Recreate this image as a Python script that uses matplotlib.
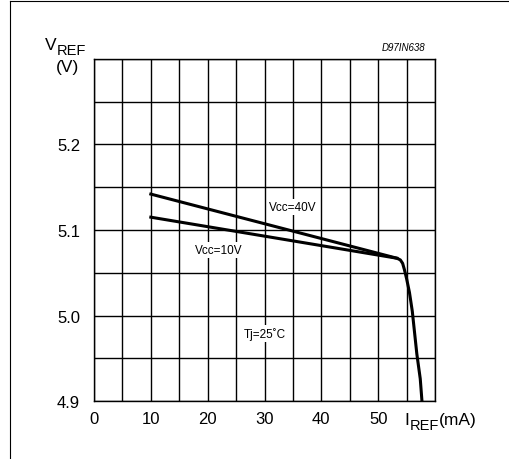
import matplotlib
matplotlib.use("Agg")
import matplotlib.pyplot as plt
from matplotlib.lines import Line2D

plt.rcParams['font.family'] = ['Liberation Sans', 'DejaVu Sans']

# reference voltage vs. reference current, Tj = 25 C
i_vcc40 = [10, 53.3, 53.9, 54.3, 54.6, 55.0, 55.5, 56.0, 56.8, 57.4, 57.7]
v_vcc40 = [5.142, 5.067, 5.065, 5.061, 5.054, 5.043, 5.027, 5.005, 4.955, 4.926, 4.9]
i_vcc10 = [10, 53.3]
v_vcc10 = [5.115, 5.067]

x_ticks = [0, 5, 10, 15, 20, 25, 30, 35, 40, 45, 50, 55, 60]
x_labels = ['0', '', '10', '', '20', '', '30', '', '40', '', '50', '', '']
y_ticks = [4.9, 4.95, 5.0, 5.05, 5.1, 5.15, 5.2, 5.25, 5.3]
y_labels = ['4.9', '', '5.0', '', '5.1', '', '5.2', '', '']

fig = plt.figure(figsize=(5.1, 4.6), dpi=100)
ax = fig.add_axes([0.1843, 0.126, 0.6687, 0.7436])

ax.set_xlim(0, 60)
ax.set_ylim(4.9, 5.3)
ax.set_xticks(x_ticks, x_labels)
ax.set_yticks(y_ticks, y_labels)
ax.tick_params(length=0, labelsize=12)
ax.tick_params(axis='x', pad=7.5)
ax.tick_params(axis='y', pad=10)
ax.grid(True, color='black', lw=1.0)
for s in ax.spines.values():
    s.set_linewidth(1.0)

ax.plot(i_vcc40, v_vcc40, color='black', lw=2.2, solid_joinstyle='round', zorder=4)
ax.plot(i_vcc10, v_vcc10, color='black', lw=2.2, zorder=4)

# curve labels sit on white so the grid breaks around them
box = dict(facecolor='white', edgecolor='none', pad=1.5)
ax.text(35.0, 5.127, 'Vcc=40V', fontsize=8.5, ha='center', va='center', bbox=box, zorder=3)
ax.text(22.0, 5.077, 'Vcc=10V', fontsize=8.5, ha='center', va='center', bbox=box, zorder=3)
ax.text(30.1, 4.979, 'Tj=25˚C', fontsize=8.5, ha='center', va='center', bbox=box, zorder=3)


def sub_label(x, y, main, sub, tail=''):
    # main letter, lowered subscript, then the rest of the label
    t = fig.text(x, y, main, fontsize=12.5, ha='left', va='baseline')
    s = ax.annotate(sub, xy=(1, 0), xycoords=t, xytext=(0.3, -3.5), textcoords='offset points',
                    fontsize=10.5, ha='left', va='bottom', annotation_clip=False)
    if tail:
        ax.annotate(tail, xy=(1, 0), xycoords=s, xytext=(0.3, 3.5), textcoords='offset points',
                    fontsize=12.5, ha='left', va='bottom', annotation_clip=False)


sub_label(45 / 510, 1 - 50 / 460, 'V', 'REF')
fig.text(68 / 510, 1 - 72 / 460, '(V)', fontsize=12.5, ha='center', va='baseline')
sub_label(404 / 510, 1 - 425 / 460, 'I', 'REF', '(mA)')
fig.text(425 / 510, 1 - 48 / 460, 'D97IN638', fontsize=7, style='italic', ha='right', va='center')

# page frame
fig.add_artist(Line2D([10.5 / 510, 10.5 / 510], [0, 1 - 1.5 / 460], color='black', lw=0.8))
fig.add_artist(Line2D([10.5 / 510, 1], [1 - 1.5 / 460, 1 - 1.5 / 460], color='black', lw=0.8))

fig.savefig('out.png', dpi=100)
